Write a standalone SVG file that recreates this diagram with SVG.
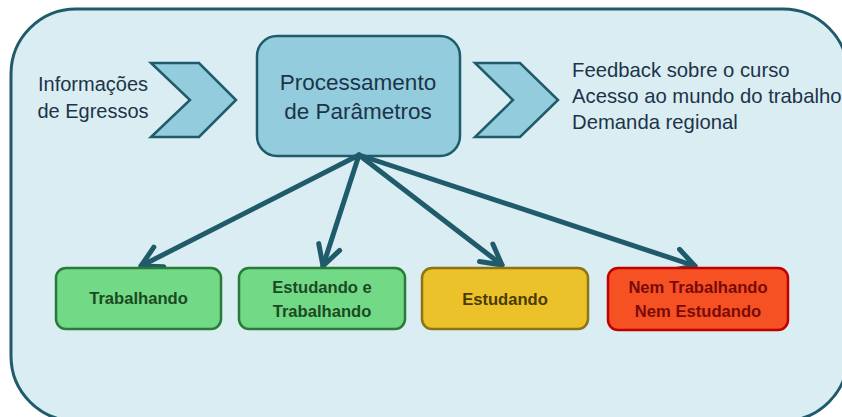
<svg xmlns="http://www.w3.org/2000/svg" width="842" height="417" viewBox="0 0 842 417">
<style>
.t{font-family:"Liberation Sans",Arial,sans-serif;fill:#1d3448;}
.c{text-anchor:middle;}
.b{font-family:"Liberation Sans",Arial,sans-serif;font-weight:bold;font-size:16.6px;text-anchor:middle;}
.chev{fill:#93cddd;stroke:#1f5b6b;stroke-width:2.5;stroke-linejoin:miter;}
.conn{stroke:#1f5b6b;stroke-width:5;fill:none;stroke-linecap:round;}
</style>
<defs>
<marker id="ah" markerUnits="userSpaceOnUse" markerWidth="34" markerHeight="34" viewBox="-27 -17 34 34" refX="0" refY="0" orient="auto">
<path d="M-20,-11 L0,0 L-20,11" fill="none" stroke="#1f5b6b" stroke-width="5" stroke-linecap="round" stroke-linejoin="round"/>
</marker>
</defs>
<rect x="11" y="9" width="837" height="412" rx="65" ry="65" fill="#daedf3" stroke="#1f5b6b" stroke-width="3"/>
<g id="input">
<polygon class="chev" points="151,63 199,63 236,100 199,137 151,137 190,100"/>
<text class="t c" x="93" y="91" font-size="20">Informações</text>
<text class="t c" x="93" y="118" font-size="20">de Egressos</text>
</g>
<g id="processamento">
<rect x="257" y="36" width="203" height="120" rx="20" ry="20" fill="#93cddd" stroke="#1f5b6b" stroke-width="2.5"/>
<text class="t c" x="358" y="90" font-size="22.5">Processamento</text>
<text class="t c" x="358" y="119" font-size="22.5">de Parâmetros</text>
</g>
<g id="output">
<polygon class="chev" points="475,63 520,63 558,100 520,137 475,137 513,100"/>
<text class="t" x="572" y="77" font-size="20.3">Feedback sobre o curso</text>
<text class="t" x="572" y="103" font-size="20.3">Acesso ao mundo do trabalho</text>
<text class="t" x="572" y="129" font-size="20.3">Demanda regional</text>
</g>
<g id="connectors">
<line class="conn" x1="359" y1="155" x2="141" y2="266" marker-end="url(#ah)"/>
<line class="conn" x1="359" y1="155" x2="323" y2="266" marker-end="url(#ah)"/>
<line class="conn" x1="359" y1="155" x2="502" y2="265" marker-end="url(#ah)"/>
<line class="conn" x1="359" y1="155" x2="695" y2="266" marker-end="url(#ah)"/>
</g>
<g id="trabalhando">
<rect x="56" y="268" width="165" height="61" rx="10" ry="10" fill="#72d986" stroke="#2a7a3a" stroke-width="2.5"/>
<text class="b" x="138.5" y="304" fill="#1b4a22">Trabalhando</text>
</g>
<g id="estudando-trabalhando">
<rect x="239" y="268" width="166" height="61" rx="10" ry="10" fill="#72d986" stroke="#2a7a3a" stroke-width="2.5"/>
<text class="b" x="322" y="293" fill="#1b4a22">Estudando e</text>
<text class="b" x="322" y="317" fill="#1b4a22">Trabalhando</text>
</g>
<g id="estudando">
<rect x="422" y="268" width="166" height="61" rx="10" ry="10" fill="#ecc22a" stroke="#8c7414" stroke-width="2.5"/>
<text class="b" x="505" y="305" fill="#4a3b05">Estudando</text>
</g>
<g id="nem">
<rect x="608" y="268" width="180" height="62" rx="10" ry="10" fill="#f55122" stroke="#c00000" stroke-width="2.5"/>
<text class="b" x="698" y="293" fill="#7a0a0a">Nem Trabalhando</text>
<text class="b" x="698" y="317" fill="#7a0a0a">Nem Estudando</text>
</g>
</svg>
